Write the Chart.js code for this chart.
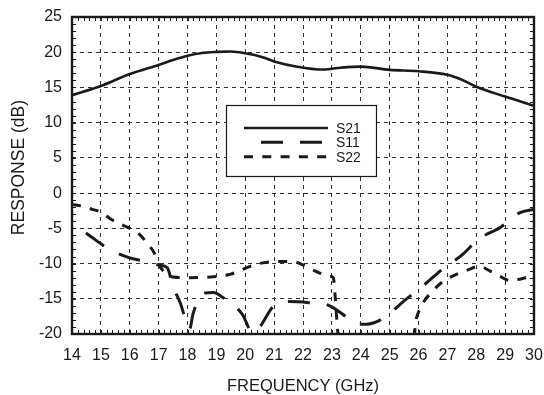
<!DOCTYPE html>
<html><head><meta charset="utf-8">
<script src="https://cdn.jsdelivr.net/npm/chart.js@4"></script>
<style>html,body{margin:0;padding:0;background:#fff}#wrap{width:544px;height:395px}</style>
</head><body><div id="wrap"><canvas id="c" width="544" height="395"></canvas></div>
<script>
// ---- data ----
const seriesNames = ['S21', 'S11', 'S22'];

const s21Freq = [14, 15, 16, 17, 17.5, 18, 18.5, 19, 19.5, 20, 20.6, 21, 21.8, 22.7, 23.3, 24, 25, 26, 27, 27.5, 28, 29, 30];
const s21Resp = [13.9, 15.2, 16.9, 18.2, 18.9, 19.5, 19.9, 20.05, 20.1, 19.85, 19.3, 18.7, 17.95, 17.55, 17.8, 17.95, 17.5, 17.3, 16.8, 16.1, 15.1, 13.7, 12.4];

const s11Freq = [14, 14.7, 15, 15.4, 16, 16.67, 17, 17.3, 17.5, 17.75, 18, 18.07, 18.2, 18.57, 18.9, 19.2, 19.9, 20.25, 20.5, 20.97, 21.5, 22.2, 22.87, 23.55, 23.9, 24.2, 24.85, 25.5, 26.26, 26.8, 27.5, 28.1, 28.86, 29.5, 30];
const s11Resp = [-4.3, -6.3, -7.2, -8.2, -9.2, -9.8, -10.2, -10.6, -13.3, -15.6, -18.8, -19.3, -17.0, -14.2, -14.1, -14.75, -17.2, -19.8, -19.0, -16.1, -15.4, -15.55, -15.9, -17.7, -18.6, -18.6, -17.6, -15.3, -12.8, -10.9, -8.8, -6.5, -4.8, -2.8, -2.3];

const s22Freq = [14, 14.35, 14.7, 15, 15.35, 15.6, 16, 16.3, 16.6, 16.85, 17, 17.2, 17.5, 18, 18.8, 19.05, 19.5, 20.1, 20.6, 21.2, 21.6, 21.9, 22.1, 22.5, 22.9, 23.05, 23.12, 23.2, 23.3, 25.8, 25.9, 26, 26.22, 26.47, 26.77, 27.03, 27.44, 27.78, 28.07, 28.48, 28.82, 29.05, 29.2, 29.4, 29.77, 30];
const s22Resp = [-1.6, -1.85, -2.3, -2.7, -3.7, -4.25, -5.0, -5.7, -7.1, -8.5, -10.1, -11.2, -11.9, -12.0, -11.9, -11.8, -11.5, -10.5, -9.9, -9.7, -9.7, -10.0, -10.4, -11.2, -11.8, -12.0, -15.0, -19.5, -22.5, -22.5, -18.4, -16.9, -15.2, -14.0, -12.8, -12.1, -11.3, -10.8, -10.35, -11.06, -11.8, -12.3, -12.4, -12.3, -11.95, -11.7];

const xMin = 14, xMax = 30, xStep = 1, xMinorStep = 0.2;
const yMin = -20, yMax = 25, yStep = 5, yMinorStep = 1;
const xTitle = 'FREQUENCY (GHz)';
const yTitle = 'RESPONSE (dB)';

// ---- build chart ----
const ink = '#1a1a1a';
const FONT = '"Liberation Sans", Arial, Helvetica, sans-serif';
const toPts = (xs, ys) => xs.map((v, i) => ({x: v, y: ys[i]}));

const styles = [
  {borderWidth: 2.6, borderDash: [], borderDashOffset: 0},
  {borderWidth: 3, borderDash: [22, 17], borderDashOffset: 22},
  {borderWidth: 3, borderDash: [9, 9.3], borderDashOffset: 0}
];
const dataSets = [[s21Freq, s21Resp], [s11Freq, s11Resp], [s22Freq, s22Resp]];

const framePlugin = {
  id: 'frame',
  afterDatasetsDraw(chart) {
    const {ctx, chartArea: a} = chart;
    // legend box
    const bx = a.left + 154, by = a.top + 88, bw = 150, bh = 71;
    ctx.save();
    ctx.fillStyle = '#fff';
    ctx.fillRect(bx, by, bw, bh);
    ctx.strokeStyle = ink; ctx.lineWidth = 1.2;
    ctx.strokeRect(bx + 0.5, by + 0.5, bw, bh);
    const rows = [23, 37.3, 51.7];
    chart.data.datasets.forEach((ds, i) => {
      const yy = by + rows[i];
      ctx.beginPath();
      ctx.setLineDash(ds.borderDash || []);
      ctx.lineDashOffset = ds.borderDashOffset || 0;
      ctx.lineWidth = ds.borderWidth;
      ctx.strokeStyle = ds.borderColor;
      ctx.moveTo(bx + 18, yy); ctx.lineTo(bx + 102, yy);
      ctx.stroke();
      ctx.setLineDash([]);
      ctx.fillStyle = ink;
      ctx.font = '14px ' + FONT;
      ctx.textBaseline = 'middle';
      ctx.textAlign = 'left';
      ctx.fillText(ds.label, bx + 110, yy + 1);
    });
    ctx.restore();
  },
  afterDraw(chart) {
    const {ctx, chartArea: a, scales: {x, y}} = chart;
    ctx.save();
    ctx.strokeStyle = ink;
    ctx.lineWidth = 1;
    const seg = (x1, y1, x2, y2) => { ctx.beginPath(); ctx.moveTo(x1, y1); ctx.lineTo(x2, y2); ctx.stroke(); };
    const nx = Math.round((xMax - xMin) / xMinorStep);
    for (let i = 0; i <= nx; i++) {
      const px = Math.round(x.getPixelForValue(xMin + i * xMinorStep)) + 0.5;
      seg(px, a.bottom, px, a.bottom - 4);
      seg(px, a.top, px, a.top + 4);
    }
    const ny = Math.round((yMax - yMin) / yMinorStep);
    for (let i = 0; i <= ny; i++) {
      const py = Math.round(y.getPixelForValue(yMin + i * yMinorStep)) + 0.5;
      seg(a.left, py, a.left + 4, py);
      seg(a.right, py, a.right - 4, py);
    }
    ctx.lineWidth = 2.4;
    ctx.strokeRect(a.left, a.top, a.right - a.left, a.bottom - a.top);
    // y-axis title (placed slightly above the plot centre, as in the reference)
    ctx.translate(19, a.top + (a.bottom - a.top) * 0.475);
    ctx.rotate(-Math.PI / 2);
    ctx.fillStyle = ink;
    ctx.font = '17.5px ' + FONT;
    ctx.textAlign = 'center';
    ctx.textBaseline = 'middle';
    ctx.fillText(yTitle, 0, 0);
    ctx.restore();
  }
};

new Chart(document.getElementById('c'), {
  type: 'line',
  data: {
    datasets: seriesNames.map((name, i) => ({
      label: name,
      data: toPts(dataSets[i][0], dataSets[i][1]),
      borderColor: ink,
      backgroundColor: ink,
      pointRadius: 0,
      fill: false,
      cubicInterpolationMode: 'monotone',
      borderCapStyle: 'butt',
      ...styles[i]
    }))
  },
  options: {
    responsive: false,
    devicePixelRatio: 1,
    animation: false,
    layout: {padding: {left: 0, right: 10, top: 17, bottom: 0}},
    plugins: {legend: {display: false}, tooltip: {enabled: false}},
    scales: {
      x: {
        type: 'linear', min: xMin, max: xMax,
        ticks: {stepSize: xStep, color: ink, font: {family: FONT, size: 16}, padding: 12, maxRotation: 0},
        grid: {color: '#333', lineWidth: 1, drawTicks: false},
        border: {display: false, dash: [4, 4]},
        title: {display: true, text: xTitle, color: ink, font: {family: FONT, size: 16.5, lineHeight: 1}, padding: {top: 0, bottom: 0}},
        afterFit(s) { s.height = 61; s.paddingLeft = 0; s.paddingRight = 0; }
      },
      y: {
        type: 'linear', min: yMin, max: yMax,
        ticks: {stepSize: yStep, color: ink, font: {family: FONT, size: 16}, padding: 10},
        grid: {color: '#333', lineWidth: 1, drawTicks: false},
        border: {display: false, dash: [4, 4]},
        title: {display: false, text: yTitle},
        afterFit(s) { s.width = 72; s.paddingTop = 0; s.paddingBottom = 0; }
      }
    }
  },
  plugins: [framePlugin]
});
</script></body></html>
